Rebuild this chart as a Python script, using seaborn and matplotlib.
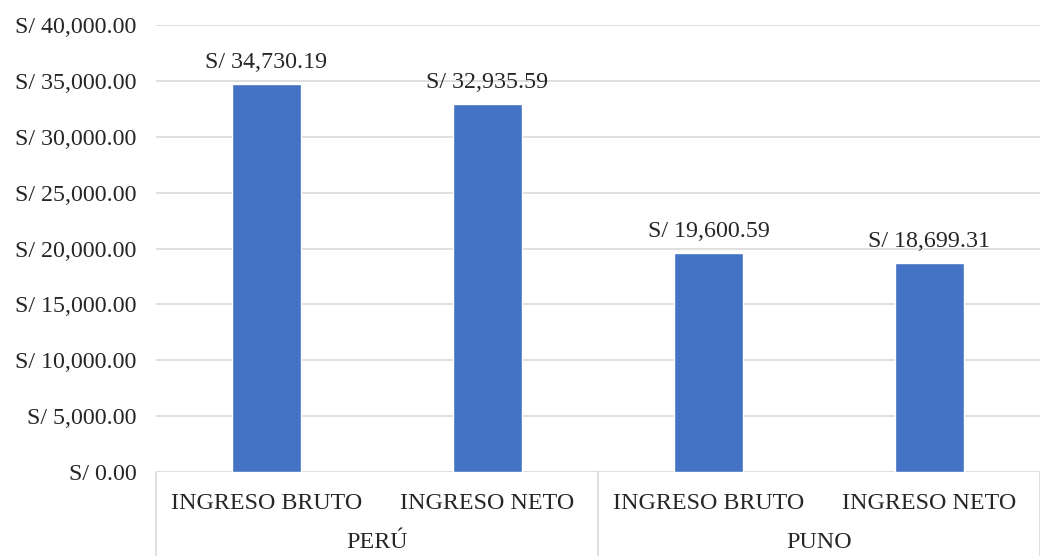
import pandas as pd
import matplotlib.pyplot as plt
import seaborn as sns
from matplotlib.ticker import FuncFormatter

grupos = ["PERÚ", "PERÚ", "PUNO", "PUNO"]
conceptos = ["INGRESO BRUTO", "INGRESO NETO", "INGRESO BRUTO", "INGRESO NETO"]
ingresos = [34730.19, 32935.59, 19600.59, 18699.31]
group_names = ["PERÚ", "PUNO"]

df = pd.DataFrame({"grupo": grupos, "concepto": conceptos, "ingreso": ingresos})
df["clave"] = df["grupo"] + "|" + df["concepto"]

sns.set_style("white")
plt.rcParams["font.family"] = ["Liberation Serif", "DejaVu Serif"]
fs = 17.3

fig = plt.figure(figsize=(10.4, 5.56), dpi=100)
ax = fig.add_axes([0.15, 0.151, 0.85, 0.804])

sns.barplot(data=df, x="clave", y="ingreso", color="#4472C4", saturation=1,
            width=0.315, ax=ax)

ax.set_ylim(0, 40000)
ax.set_xlim(-0.5, 3.5)
ax.set_yticks(range(0, 40001, 5000))
ax.yaxis.set_major_formatter(FuncFormatter(lambda v, p: f"S/ {v:,.2f}"))
ax.grid(axis="y", color="#D9D9D9", linewidth=1.2)
ax.set_axisbelow(True)
for s in ax.spines.values():
    s.set_visible(False)
ax.tick_params(axis="y", length=0, pad=14, labelsize=fs)
ax.tick_params(axis="x", length=0, pad=15, labelsize=fs)
ax.set_xticks(range(len(conceptos)))
ax.set_xticklabels(conceptos)
ax.set_xlabel("")
ax.set_ylabel("")

for i, v in enumerate(ingresos):
    ax.annotate(f"S/ {v:,.2f}", (i, v), xytext=(0, 8), textcoords="offset points",
                ha="center", va="bottom", fontsize=fs)

# etiquetas de grupo y separadores
trans = ax.get_xaxis_transform()
for j, g in enumerate(group_names):
    ax.text(j * 2 + 0.5, -0.158, g, transform=trans, ha="center", va="center",
            fontsize=fs)
for xs in [-0.5, 1.5, 3.5]:
    ax.plot([xs, xs], [0, -0.2], transform=trans, color="#D9D9D9",
            linewidth=1.2, clip_on=False)

fig.savefig("out.png", dpi=100)
